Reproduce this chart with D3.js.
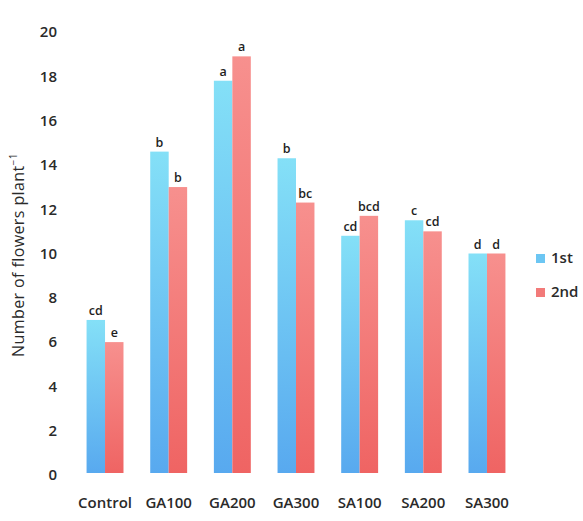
<!DOCTYPE html>
<html>
<head>
<meta charset="utf-8">
<script src="https://cdn.jsdelivr.net/npm/d3@7"></script>
<style>
  html, body { margin: 0; padding: 0; background: #fff; }
  svg { display: block; }
  text { font-family: "Open Sans", "DejaVu Sans", sans-serif; }
</style>
</head>
<body>
<script>
// Flowers per plant for each treatment, two seasons
const categories = ["Control", "GA100", "GA200", "GA300", "SA100", "SA200", "SA300"];
const seriesNames = ["1st", "2nd"];
const firstSeason = [7.0, 14.6, 17.8, 14.3, 10.8, 11.5, 10.0];
const secondSeason = [6.0, 13.0, 18.9, 12.3, 11.7, 11.0, 10.0];
const firstLetters = ["cd", "b", "a", "b", "cd", "c", "d"];
const secondLetters = ["e", "b", "a", "bc", "bcd", "cd", "d"];
const yTicks = [0, 2, 4, 6, 8, 10, 12, 14, 16, 18, 20];

const W = 583, H = 521;
const svg = d3.select("body").append("svg").attr("width", W).attr("height", H);

const defs = svg.append("defs");
const grads = [
  { id: "gBlue", top: "#84e0f7", bottom: "#58a9ef" },
  { id: "gRed", top: "#f7908e", bottom: "#ef6463" }
];
grads.forEach(g => {
  const lg = defs.append("linearGradient").attr("id", g.id)
    .attr("x1", 0).attr("y1", 0).attr("x2", 0).attr("y2", 1);
  lg.append("stop").attr("offset", "0%").attr("stop-color", g.top);
  lg.append("stop").attr("offset", "100%").attr("stop-color", g.bottom);
});
const fills = ["url(#gBlue)", "url(#gRed)"];
const legendFills = ["#6cc6f3", "#f27a79"];

const y = d3.scaleLinear().domain([0, 20]).range([475, 32]);
const x = d3.scaleBand().domain(categories).range([73.2, 518.8])
  .paddingInner(0.42).paddingOuter(0.21);
const xs = d3.scaleBand().domain(seriesNames).range([0, x.bandwidth()]);

const rows = categories.map((c, i) => ({
  cat: c,
  vals: [
    { s: "1st", v: firstSeason[i], l: firstLetters[i], k: 0 },
    { s: "2nd", v: secondSeason[i], l: secondLetters[i], k: 1 }
  ]
}));

// Y axis (labels only)
const yAxis = svg.append("g").attr("transform", "translate(59,0)")
  .call(d3.axisLeft(y).tickValues(yTicks).tickSize(0).tickPadding(2));
yAxis.select(".domain").remove();
yAxis.selectAll("text").attr("font-size", 15).attr("font-weight", 600).attr("fill", "#2a2a2a");

// X axis (labels only)
const xAxis = svg.append("g").attr("transform", "translate(0,489)")
  .call(d3.axisBottom(x).tickSize(0).tickPadding(8));
xAxis.select(".domain").remove();
xAxis.selectAll("text").attr("font-size", 15).attr("font-weight", 600).attr("fill", "#2a2a2a");

// Bars
const groups = svg.append("g").selectAll("g").data(rows).join("g")
  .attr("transform", d => `translate(${x(d.cat)},0)`);
groups.selectAll("rect").data(d => d.vals).join("rect")
  .attr("x", d => xs(d.s))
  .attr("y", d => y(d.v))
  .attr("width", xs.bandwidth())
  .attr("height", d => y(0) - y(d.v) - 2)
  .attr("fill", d => fills[d.k]);
groups.selectAll("text.sig").data(d => d.vals).join("text")
  .attr("class", "sig")
  .attr("x", d => xs(d.s) + xs.bandwidth() / 2)
  .attr("y", d => y(d.v) - 5)
  .attr("text-anchor", "middle")
  .attr("font-size", 12.5)
  .attr("font-weight", 600)
  .attr("fill", "#1e1e1e")
  .text(d => d.l);

// Y axis title
svg.append("text")
  .attr("transform", "translate(24,255) rotate(-90)")
  .attr("text-anchor", "middle")
  .attr("font-size", 16)
  .attr("letter-spacing", 0.4)
  .attr("fill", "#2a2a2a")
  .call(t => {
    t.append("tspan").text("Number of flowers plant");
    t.append("tspan").attr("font-size", 10).attr("dy", -7).text("−1");
  });

// Legend
const legend = svg.append("g").selectAll("g").data(seriesNames).join("g")
  .attr("transform", (d, i) => `translate(536,${258 + i * 34})`);
legend.append("rect").attr("x", 0).attr("y", -4).attr("width", 9).attr("height", 9)
  .attr("fill", (d, i) => legendFills[i]);
legend.append("text").attr("x", 15).attr("y", 0).attr("dy", "0.35em")
  .attr("font-size", 15).attr("font-weight", 600).attr("fill", "#2a2a2a").text(d => d);
</script>
</body>
</html>
